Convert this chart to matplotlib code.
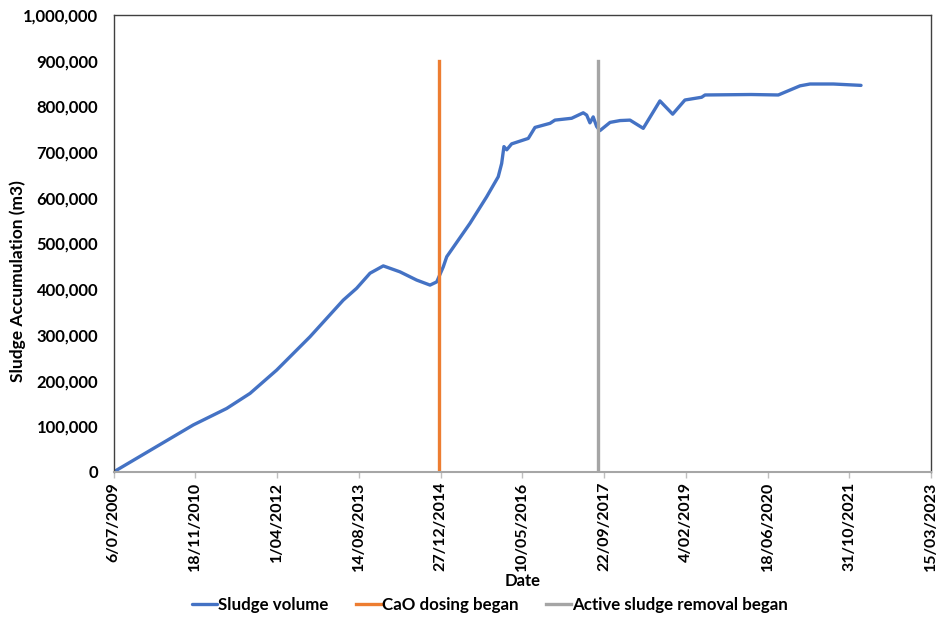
import matplotlib
matplotlib.use("Agg")
import matplotlib.pyplot as plt
from matplotlib.ticker import FuncFormatter, MultipleLocator
import datetime as dt

plt.rcParams['font.family'] = ['Lato', 'DejaVu Sans']

start = dt.date(2009, 7, 6)

# days since 6/07/2009 and sludge volume (m3)
sludge_days = [0, 488, 692, 835, 998, 1202, 1405, 1487, 1569, 1650, 1752, 1854,
               1936, 1977, 2017, 2038, 2180, 2282, 2353, 2374, 2388, 2405, 2435,
               2537, 2578, 2670, 2700, 2802, 2873, 2894, 2914, 2934, 2955, 2975,
               3037, 3098, 3159, 3240, 3342, 3420, 3495, 3597, 3618, 3900, 4066,
               4199, 4260, 4403, 4572]
sludge_vol = [0, 103000, 139000, 172000, 223000, 296000, 376000, 402000, 435000,
              451000, 438000, 420000, 409000, 416000, 449000, 471000, 544000,
              602000, 646000, 675000, 712000, 705000, 718000, 730000, 754000,
              763000, 770000, 774000, 786000, 781000, 764000, 777000, 756000,
              747000, 765000, 769000, 770000, 752000, 812000, 783000, 814000,
              820000, 825000, 826000, 825000, 845000, 849000, 849000, 846000]

cao_date = dt.date(2014, 12, 20)
removal_date = dt.date(2017, 8, 16)
marker_top = 900000

tick_step_days = 500
n_ticks = 11

dates = [start + dt.timedelta(days=d) for d in sludge_days]

fig = plt.figure(figsize=(9.39, 6.19), dpi=100)
ax = fig.add_axes([113.5/939, 1-472/619, (931-113.5)/939, (472-15)/619])

blue = '#4472C4'
orange = '#ED7D31'
grey = '#A5A5A5'

ax.plot(dates, sludge_vol, color=blue, lw=2.4, label='Sludge volume',
        solid_capstyle='round', solid_joinstyle='round')
ax.plot([cao_date, cao_date], [0, marker_top], color=orange, lw=2.4,
        label='CaO dosing began')
ax.plot([removal_date, removal_date], [0, marker_top], color=grey, lw=2.4,
        label='Active sludge removal began')

tick_dates = [start + dt.timedelta(days=tick_step_days*i) for i in range(n_ticks)]
ax.set_xlim(tick_dates[0], tick_dates[-1])
ax.set_xticks(tick_dates)
ax.set_xticklabels([f"{d.day}/{d.month:02d}/{d.year}" for d in tick_dates],
                   rotation=90, fontsize=11.5, fontweight='bold')

ax.set_ylim(0, 1000000)
ax.yaxis.set_major_locator(MultipleLocator(100000))
ax.yaxis.set_major_formatter(FuncFormatter(lambda v, p: f"{int(v):,}"))
ax.tick_params(axis='y', length=0, labelsize=12, pad=11)
for lab in ax.get_yticklabels():
    lab.set_fontweight('bold')
ax.tick_params(axis='x', length=4, color='#BFBFBF', width=1, pad=3)

for s in ['left', 'top', 'right']:
    ax.spines[s].set_color('#404040')
    ax.spines[s].set_linewidth(1.0)
ax.spines['bottom'].set_color('#A6A6A6')
ax.spines['bottom'].set_linewidth(1.5)

ax.set_xlabel('Date', fontsize=12, fontweight='bold', labelpad=1)
ax.set_ylabel('Sludge Accumulation (m3)', fontsize=12.5, fontweight='bold')
ax.yaxis.set_label_coords(-0.107, 0.418)

leg = fig.legend(loc='center', bbox_to_anchor=(490/939, 1-605/619), ncol=3,
                 frameon=False, fontsize=12.2, handlelength=1.5, handletextpad=0.05,
                 columnspacing=1.6)
for t in leg.get_texts():
    t.set_fontweight('bold')

fig.savefig('out.png', dpi=100)
